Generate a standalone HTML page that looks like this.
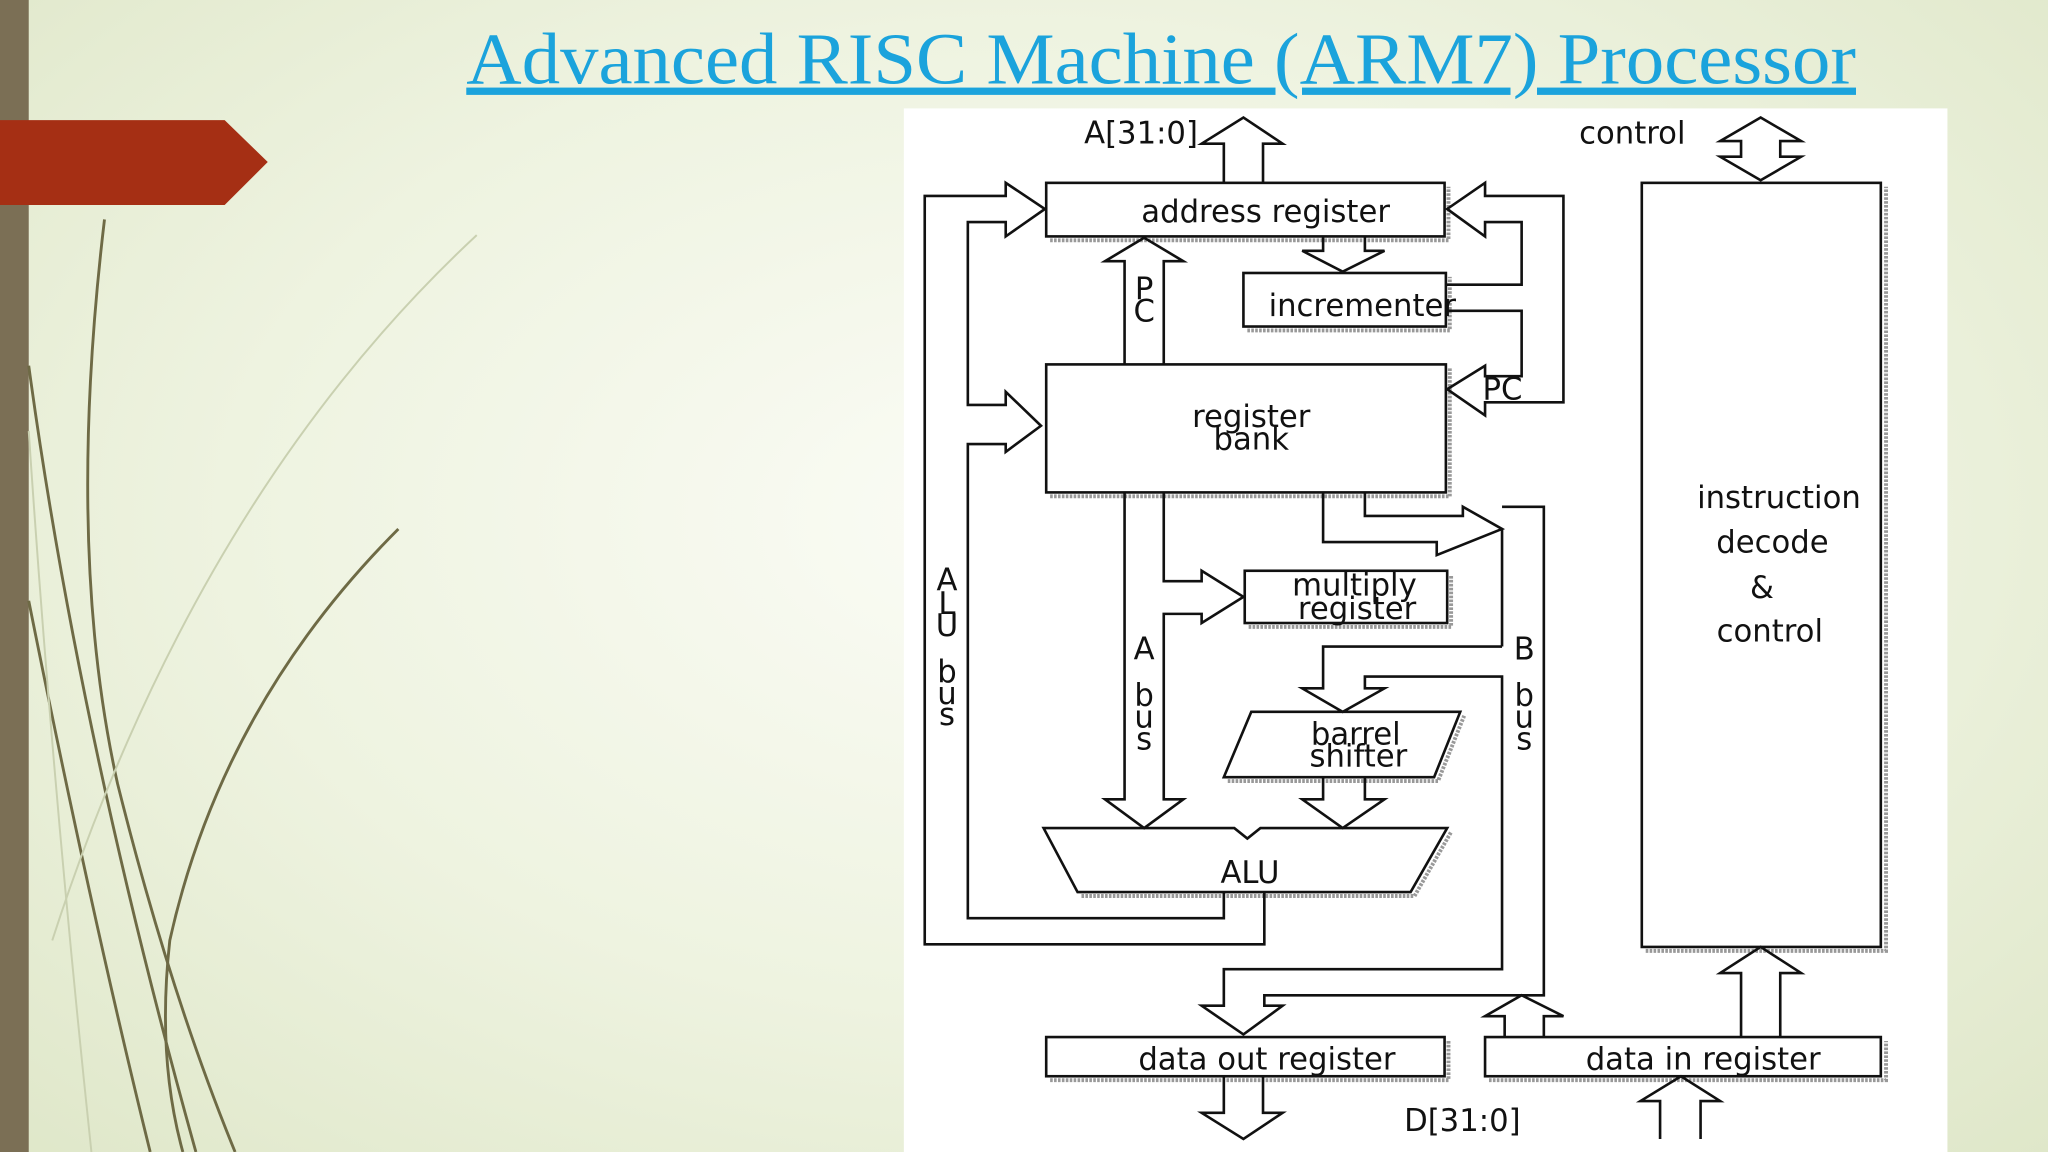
<!DOCTYPE html>
<html><head><meta charset="utf-8"><style>
html,body{margin:0;padding:0;width:2048px;height:1152px;overflow:hidden}
body{background:radial-gradient(ellipse at 50% 45%,#fbfcf6 0%,#eef3e0 55%,#dfe7c9 100%)}
svg{position:absolute;left:0;top:0}
</style></head><body>
<svg width="2048" height="1152" viewBox="0 0 1568 882" preserveAspectRatio="none" xmlns="http://www.w3.org/2000/svg">
<rect x="0" y="0" width="22" height="882" fill="#7b6f55"/>
<g fill="none" stroke="#6e6a45" stroke-width="2.2">
<path d="M80 168 Q50 420 90 600 Q130 760 180 882"/>
<path d="M305 405 Q170 540 130 720 Q120 810 140 882"/>
<path d="M22 280 Q60 560 150 882"/>
<path d="M22 460 Q70 700 115 882"/>
</g>
<g fill="none" stroke="#c9d0b0" stroke-width="1.5">
<path d="M365 180 Q150 380 40 720"/>
<path d="M22 330 Q40 600 70 882"/>
</g>
<polygon points="0,92 172,92 205,124 172,157 0,157" fill="#a52f14"/>
<text x="357" y="64" textLength="1064" lengthAdjust="spacingAndGlyphs" font-family="Liberation Serif,serif" font-size="56" fill="#1ba3dc" text-decoration="underline">Advanced RISC Machine (ARM7) Processor</text>
<rect x="692" y="83" width="799" height="799" fill="#fff"/>
<g fill="none" stroke="#999" stroke-width="3" stroke-dasharray="2 1">
<path d="M804 184 H1109 V143"/><path d="M955 253 H1110 V212"/><path d="M804 380 H1110 V282"/>
<path d="M956 480 H1111 V440"/><path d="M1260 728 H1444 V143"/>
<path d="M804 827 H1109 V797"/><path d="M1140 827 H1444 V797"/>
<path d="M940 598 H1101 L1121 548"/><path d="M828 686 H1083 L1111 637"/>
</g>
<g fill="#fff" stroke="#111" stroke-width="2">
<rect x="801" y="140" width="305" height="41"/>
<rect x="952" y="209" width="155" height="41"/>
<rect x="801" y="279" width="306" height="98"/>
<rect x="953" y="437" width="155" height="40"/>
<rect x="1257" y="140" width="183" height="585"/>
<rect x="801" y="794" width="305" height="30"/>
<rect x="1137" y="794" width="303" height="30"/>
<polygon points="958,545 1118,545 1098,595 937,595"/>
<polygon points="799,634 945,634 955,642 965,634 1108,634 1080,683 825,683"/>
</g>
<g fill="none" stroke="#111" stroke-width="2" stroke-linejoin="miter">
<path d="M937 140 V110 H920 L952 90 L982 110 H967 V140"/>
<path d="M1348 138 L1317 120 H1333 V108 H1317 L1348 90 L1379 108 H1363 V120 H1379 Z"/>
<path d="M968 683 V723 H708 V150 H770 V140 L800 160 L770 181 V170 H741 V310 H770 V300 L797 326 L770 346 V340 H741 V703 H937 V683"/>
<path d="M1107 218 H1165 V170 H1137 V181 L1108 160 L1137 140 V150 H1197 V308 H1137 V318 L1108 298 L1137 280 V288 H1165 V238 H1107"/>
<path d="M1013 181 V192 H997 L1028 208 L1060 192 H1045 V181"/>
<path d="M861 279 V200 H846 L876 182 L906 200 H891 V279"/>
<path d="M861 377 V612 H846 L876 634 L906 612 H891 V470 H920 V477 L952 457 L920 437 V445 H891 V377"/>
<path d="M1013 377 V415 H1100 V425 L1150 405 L1120 388 V395 H1045 V377"/>
<path d="M1150 388 H1182 V762 H968 V770 H982 L952 792 L920 770 H937 V742 H1150 V518 H1045 V527 H1060 L1028 545 L997 527 H1013 V495 H1150"/>
<path d="M1150 405 V495"/>
<path d="M1013 595 V612 H997 L1028 634 L1060 612 H1045 V595"/>
<path d="M1152 794 V778 H1137 L1165 762 L1197 778 H1182 V794"/>
<path d="M1333 794 V745 H1317 L1348 725 L1379 745 H1363 V794"/>
<path d="M937 824 V852 H920 L952 872 L982 852 H967 V824"/>
<path d="M1271 872 V843 H1256 L1287 824 L1317 843 H1302 V872"/>
</g>
<g font-family="DejaVu Sans,sans-serif" font-size="23.5" fill="#111">
<text x="830" y="110">A[31:0]</text>
<text x="1209" y="110">control</text>
<text x="969" y="170" text-anchor="middle">address register</text>
<text x="1043" y="242" text-anchor="middle">incrementer</text>
<text x="958" y="327" text-anchor="middle">register</text>
<text x="958" y="344" text-anchor="middle">bank</text>
<text x="1037" y="456" text-anchor="middle">multiply</text>
<text x="1039" y="474" text-anchor="middle">register</text>
<text x="1038" y="570" text-anchor="middle">barrel</text>
<text x="1040" y="587" text-anchor="middle">shifter</text>
<text x="957" y="676" text-anchor="middle">ALU</text>
<text x="1362" y="389" text-anchor="middle">instruction</text>
<text x="1357" y="423" text-anchor="middle">decode</text>
<text x="1349" y="458" text-anchor="middle">&amp;</text>
<text x="1355" y="491" text-anchor="middle">control</text>
<text x="970" y="819" text-anchor="middle">data out register</text>
<text x="1304" y="819" text-anchor="middle">data in register</text>
<text x="1075" y="866">D[31:0]</text>
<text x="1135" y="306">PC</text>
<text x="876" y="229" text-anchor="middle">P</text><text x="876" y="246" text-anchor="middle">C</text>
<text x="725" y="452" text-anchor="middle">A</text><text x="725" y="470" text-anchor="middle">L</text><text x="725" y="487" text-anchor="middle">U</text>
<text x="725" y="522" text-anchor="middle">b</text><text x="725" y="539" text-anchor="middle">u</text><text x="725" y="555" text-anchor="middle">s</text>
<text x="876" y="505" text-anchor="middle">A</text><text x="876" y="540" text-anchor="middle">b</text><text x="876" y="557" text-anchor="middle">u</text><text x="876" y="574" text-anchor="middle">s</text>
<text x="1167" y="505" text-anchor="middle">B</text><text x="1167" y="540" text-anchor="middle">b</text><text x="1167" y="557" text-anchor="middle">u</text><text x="1167" y="574" text-anchor="middle">s</text>
</g>
</svg>
</body></html>
